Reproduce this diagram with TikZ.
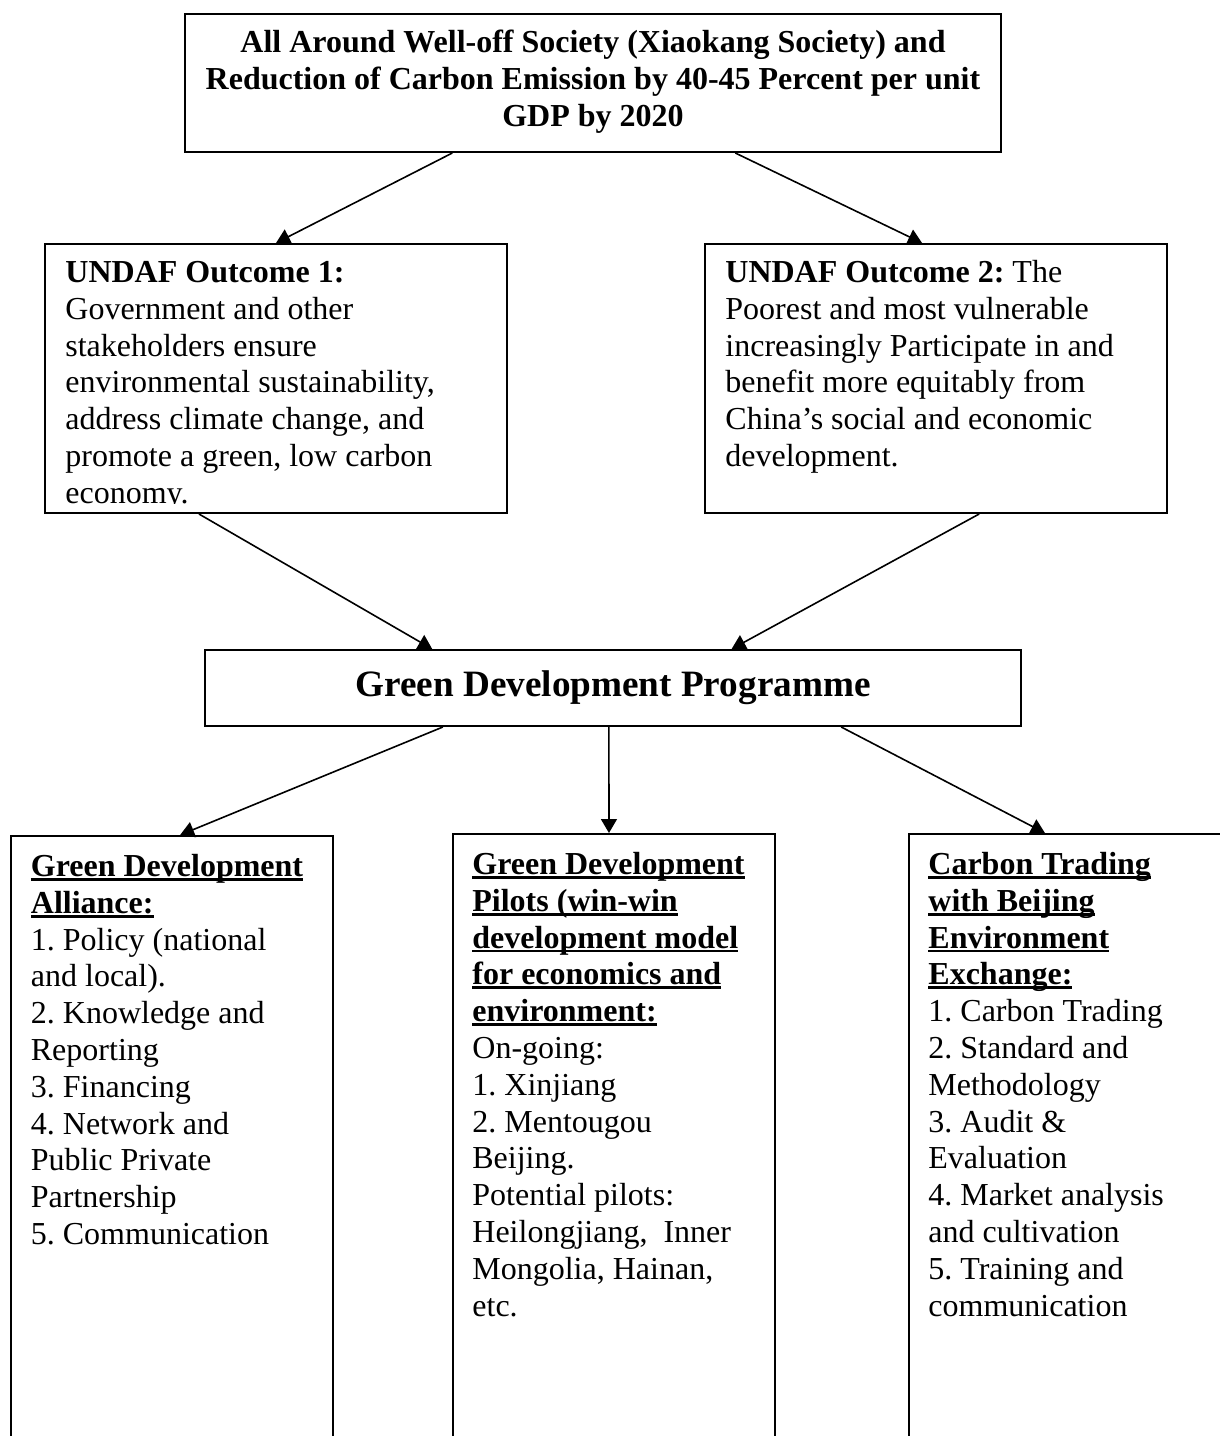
\documentclass[tikz,border=0pt]{standalone}
\usepackage{fontspec}
\setmainfont{Liberation Serif}
\usetikzlibrary{arrows.meta,calc}
\newcommand\ulbox[1]{\leavevmode\setbox0\hbox{#1}\rlap{\rule[-2.2pt]{\wd0}{1.4pt}}\box0}
\newcommand\fstrut{\rule{0pt}{14pt}}
\frenchspacing
\begin{document}
\begin{tikzpicture}[x=0.5pt,y=-0.5pt,
  box/.style={draw=black,line width=1pt,rectangle,inner sep=0pt},
  txt/.style={inner sep=0pt,anchor=north west,align=left,font=\fontsize{16pt}{18.4pt}\selectfont},
  conn/.style={line width=0.8pt,-{Triangle[length=7pt,width=8pt]}}]
\useasboundingbox (0,0) rectangle (1220,1436);
\clip (0,0) rectangle (1220,1436);

% boxes
\node[box,minimum width=408pt,minimum height=69pt] (goal) at (593,83) {};
\node[box,minimum width=231pt,minimum height=134.5pt] (out1) at (276,378.5) {};
\node[box,minimum width=231pt,minimum height=134.5pt] (out2) at (936,378.5) {};
\node[box,minimum width=408pt,minimum height=38pt,font=\bfseries\fontsize{18.6pt}{22pt}\selectfont] (gdp) at (613,688) {Green Development Programme};
\node[box,minimum width=161pt,minimum height=312pt] (alli) at (172,1148) {};
\node[box,minimum width=161pt,minimum height=313pt] (pilot) at (614,1147) {};
\node[box,minimum width=160.5pt,minimum height=313pt] (carb) at (1069.5,1147) {};

% texts
\node[txt,anchor=north,align=center,font=\bfseries\fontsize{16pt}{18.5pt}\selectfont] (goaltxt) at ($(goal.north)+(0,11)$)
  {\fstrut All Around Well-off Society (Xiaokang Society) and\\Reduction of Carbon Emission by 40-45 Percent per unit\\GDP by 2020};

\begin{scope}
\clip (out1.north west) rectangle ($(out1.south east)+(0,-11)$);
\node[txt] (out1txt) at ($(out1.north west)+(21,11)$)
  {\fstrut\textbf{UNDAF Outcome 1:}\\Government and other\\stakeholders ensure\\environmental sustainability,\\address climate change, and\\promote a green, low carbon\\economy.};
\end{scope}

\node[txt] (out2txt) at ($(out2.north west)+(21,11)$)
  {\fstrut\textbf{UNDAF Outcome 2:} The\\Poorest and most vulnerable\\increasingly Participate in and\\benefit more equitably from\\China’s social and economic\\development.};

\node[txt] (allitxt) at ($(alli.north west)+(20.5,13)$)
  {\fstrut\textbf{\ulbox{Green Development}}\\\textbf{\ulbox{Alliance:}}\\1. Policy (national\\and local).\\2. Knowledge and\\Reporting\\3. Financing\\4. Network and\\Public Private\\Partnership\\5. Communication};

\node[txt] (pilottxt) at ($(pilot.north west)+(20,13)$)
  {\fstrut\textbf{\ulbox{Green Development}}\\\textbf{\ulbox{Pilots (win-win}}\\\textbf{\ulbox{development model}}\\\textbf{\ulbox{for economics and}}\\\textbf{\ulbox{environment:}}\\On-going:\\1. Xinjiang\\2. Mentougou\\Beijing.\\Potential pilots:\\Heilongjiang,~ Inner\\Mongolia, Hainan,\\etc.};

\node[txt] (carbtxt) at ($(carb.north west)+(20,13)$)
  {\fstrut\textbf{\ulbox{Carbon Trading}}\\\textbf{\ulbox{with Beijing}}\\\textbf{\ulbox{Environment}}\\\textbf{\ulbox{Exchange:}}\\1. Carbon Trading\\2. Standard and\\Methodology\\3. Audit \&\\Evaluation\\4. Market analysis\\and cultivation\\5. Training and\\communication};

% connectors
\draw[conn] ($(goal.south west)!0.328!(goal.south east)$) -- (out1.north);
\draw[conn] ($(goal.south west)!0.674!(goal.south east)$) -- ($(out2.north west)!0.47!(out2.north east)$);
\draw[conn] ($(out1.south west)!0.334!(out1.south east)$) -- ($(gdp.north west)!0.279!(gdp.north east)$);
\draw[conn] ($(out2.south west)!0.593!(out2.south east)$) -- ($(gdp.north west)!0.645!(gdp.north east)$);
\draw[conn] ($(gdp.south west)!0.292!(gdp.south east)$) -- ($(alli.north west)!0.525!(alli.north east)$);
\draw[conn] ($(gdp.south west)!0.495!(gdp.south east)$) -- ($(pilot.north west)!0.4845!(pilot.north east)$);
\draw[conn] ($(gdp.south west)!0.779!(gdp.south east)$) -- ($(carb.north west)!0.424!(carb.north east)$);
\end{tikzpicture}
\end{document}
